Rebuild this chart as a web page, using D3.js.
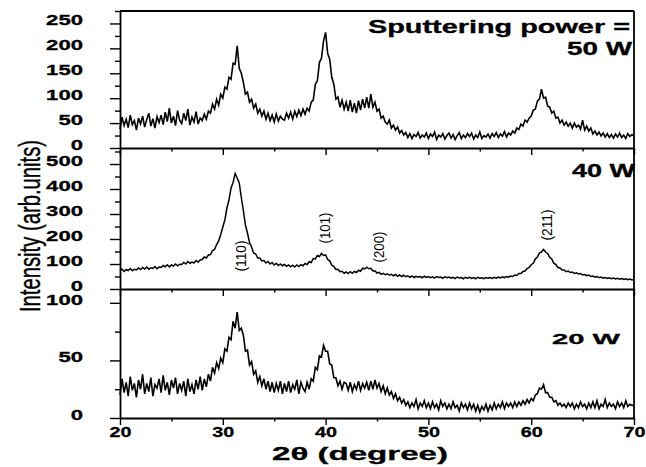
<!DOCTYPE html>
<html><head><meta charset="utf-8">
<script src="https://cdn.jsdelivr.net/npm/d3@7"></script>
<style>body{margin:0;background:#fff}</style>
</head><body><svg id="c" width="646" height="467"></svg>
<script>
// ---------- data (2θ grid: 20° to 70°, 0.2° step) ----------
const angleStart = 20, angleStep = 0.2;

const intensity50W = [
38,62,45,58,41,66,47,55,36,60,
48,64,42,57,70,44,59,40,63,51,
66,47,72,53,80,50,64,45,75,56,
49,70,55,78,46,62,52,73,48,60,
55,68,58,74,70,88,78,98,86,108,
100,122,118,142,138,170,168,205,160,150,
132,108,112,92,98,80,88,70,78,64,
74,58,70,55,66,52,68,54,64,58,
56,70,60,72,58,74,63,76,65,78,
68,80,74,92,96,128,135,172,180,215,
232,190,178,142,128,98,102,82,96,78,
92,74,96,72,90,70,95,76,98,80,
102,80,108,82,92,74,78,60,64,52,
48,56,40,46,36,42,30,35,26,31,
21,29,19,27,23,31,20,26,22,30,
19,28,23,32,17,26,22,29,18,25,
30,20,27,17,25,31,19,26,21,29,
23,30,18,26,21,32,19,25,22,28,
20,29,23,31,21,28,24,33,22,30,
26,34,30,40,37,48,44,56,52,60,
64,76,78,94,98,118,100,102,84,82,
70,74,60,62,50,56,46,52,44,50,
40,50,42,46,38,56,36,44,34,40,
28,34,26,32,24,30,22,29,21,27,
20,28,22,30,21,26,19,29,23,27,
24];

const intensity40W = [
72,80,70,78,74,82,73,79,76,84,
78,86,80,88,79,85,82,90,81,88,
86,94,89,97,88,96,92,100,93,99,
98,106,100,110,103,108,104,114,107,116,
118,128,124,136,138,154,158,178,192,218,
248,276,324,356,404,426,462,444,424,366,
314,256,224,186,168,144,140,124,124,112,
114,104,110,100,106,96,103,94,100,93,
98,91,96,89,95,88,96,90,97,93,
102,98,109,106,122,120,134,130,142,134,
136,118,113,95,91,78,79,69,71,63,
68,62,69,63,70,66,75,71,83,80,
87,81,83,72,73,64,67,59,63,57,
61,55,59,53,58,51,56,50,55,49,
53,47,52,46,51,47,50,45,51,46,
50,45,49,44,50,46,48,43,49,45,
48,43,47,42,48,44,46,41,47,43,
47,42,46,41,47,43,45,41,46,43,
46,42,47,43,48,44,49,45,50,47,
52,50,56,54,62,62,70,72,82,86,
97,103,120,128,145,148,158,148,142,127,
120,103,98,86,84,76,76,69,72,66,
68,62,65,60,62,56,58,53,56,50,
52,47,50,45,48,43,46,42,45,41,
44,40,43,39,42,38,41,37,40,36,
38];

const intensity20W = [
20,34,22,31,19,36,24,30,18,33,
25,38,21,30,23,35,19,29,26,34,
22,37,24,31,20,33,26,35,21,30,
24,32,19,34,23,29,21,33,25,36,
24,34,27,38,32,44,39,48,43,52,
48,60,58,70,68,84,78,92,76,78,
72,58,59,46,49,38,41,31,36,28,
34,25,32,23,31,22,30,24,32,21,
30,23,32,22,29,25,33,21,31,26,
23,31,25,34,32,44,42,54,53,63,
58,58,47,46,35,35,28,32,25,31,
30,24,31,23,29,25,32,24,30,26,
31,24,32,25,33,26,30,23,28,21,
26,20,23,17,21,15,18,13,16,11,
14,9,13,10,16,8,13,10,15,9,
13,8,14,9,12,7,15,10,13,8,
12,8,14,9,11,6,13,9,12,7,
13,8,12,6,11,5,10,7,12,6,
11,7,13,8,12,9,14,8,13,10,
13,9,14,10,14,11,15,12,16,13,
17,15,20,21,26,25,29,22,22,18,
18,14,15,11,13,10,12,9,13,10,
13,8,12,9,14,10,12,8,13,9,
14,9,15,8,12,10,16,9,13,10,
12,8,14,10,13,9,15,10,12,11,
11];

const powerLabels = ["50 W", "40 W", "20 W"];
const yTicks50W = [0, 50, 100, 150, 200, 250];
const yMinor50W = [25, 75, 125, 175, 225, 275];
const yTicks40W = [0, 100, 200, 300, 400, 500];
const yMinor40W = [50, 150, 250, 350, 450, 550];
const yTicks20W = [0, 50, 100];
const yMinor20W = [25, 75];
const xTicks = [20, 30, 40, 50, 60, 70];
const xMinor = [25, 35, 45, 55, 65];
const peakLabels = ["(110)", "(101)", "(200)", "(211)"];
const peakLabelAngles = [31.7, 39.9, 45.2, 61.5];
const peakLabelLevels = [132, 244, 168, 256];

// ---------- layout ----------
const svg = d3.select("#c");
const X0 = 120, X1 = 634;
const x = d3.scaleLinear().domain([20, 70]).range([X0, X1]);
const BOLD = "'Liberation Sans', Arial, sans-serif";

const panels = [
  {data: intensity50W, dom: [0, 275], top: 11,  bot: 148, major: yTicks50W, minor: yMinor50W, sw: 1.6},
  {data: intensity40W, dom: [0, 560], top: 149, bot: 289, major: yTicks40W, minor: yMinor40W, sw: 1.5},
  {data: intensity20W, dom: [0, 112], top: 289, bot: 418, major: yTicks20W, minor: yMinor20W, sw: 1.6}
];

const line = d3.line();

panels.forEach((p, pi) => {
  const y = d3.scaleLinear().domain(p.dom).range([p.bot, p.top]);
  p.y = y;
  const pts = p.data.map((v, i) => [x(angleStart + i * angleStep), y(v)]);
  svg.append("path").attr("d", line(pts))
    .attr("fill", "none").attr("stroke", "#000").attr("stroke-width", p.sw)
    .attr("stroke-linejoin", "miter");

  const gl = svg.append("g").attr("transform", `translate(${X0},0)`)
    .call(d3.axisLeft(y).tickValues(p.major).tickSize(10).tickSizeOuter(0).tickPadding(27)
      .tickFormat(d3.format("d")));
  gl.select(".domain").attr("stroke-width", 1.8);
  gl.selectAll(".tick line").attr("stroke-width", 1.4);
  gl.selectAll("text")
    .attr("font-family", BOLD).attr("font-weight", "bold").attr("font-size", 14.5)
    .attr("fill", "#000").attr("dy", "0.1em")
    .attr("stroke", "#000").attr("stroke-width", 0.3)
    .attr("lengthAdjust", "spacingAndGlyphs")
    .attr("textLength", d => String(d).length * 12.3);
  const gm = svg.append("g").attr("transform", `translate(${X0},0)`)
    .call(d3.axisLeft(y).tickValues(p.minor).tickSize(5).tickSizeOuter(0).tickFormat(""));
  gm.select(".domain").remove();
  gm.selectAll(".tick line").attr("stroke-width", 1.4);

  const gb = svg.append("g").attr("transform", `translate(0,${p.bot})`)
    .call(d3.axisBottom(x).tickValues(xTicks).tickSize(7).tickSizeOuter(0).tickPadding(2)
      .tickFormat(pi === 2 ? d3.format("d") : () => ""));
  gb.select(".domain").attr("stroke-width", 1.8);
  gb.selectAll(".tick line").attr("stroke-width", 1.4);
  gb.selectAll("text")
    .attr("font-family", BOLD).attr("font-weight", "bold").attr("font-size", 14.5)
    .attr("fill", "#000").attr("stroke", "#000").attr("stroke-width", 0.3)
    .attr("lengthAdjust", "spacingAndGlyphs")
    .attr("textLength", 22);
  const gbm = svg.append("g").attr("transform", `translate(0,${p.bot})`)
    .call(d3.axisBottom(x).tickValues(xMinor).tickSize(3.5).tickSizeOuter(0).tickFormat(""));
  gbm.select(".domain").remove();
  gbm.selectAll(".tick line").attr("stroke-width", 1.4);
});

svg.append("line").attr("x1", X0).attr("x2", X1).attr("y1", 11).attr("y2", 11)
  .attr("stroke", "#000").attr("stroke-width", 1.8);
svg.append("line").attr("x1", X1).attr("x2", X1).attr("y1", 11).attr("y2", 418)
  .attr("stroke", "#000").attr("stroke-width", 1.8);

function boldText(txt, xr, yb, fs, len) {
  svg.append("text").attr("x", xr).attr("y", yb).attr("text-anchor", "end")
    .attr("font-family", BOLD).attr("font-weight", "bold").attr("font-size", fs)
    .attr("fill", "#000").attr("stroke", "#000").attr("stroke-width", 0.3)
    .attr("lengthAdjust", "spacingAndGlyphs").attr("textLength", len)
    .text(txt);
}
boldText("Sputtering power =", 630, 33, 17.7, 262);
boldText(powerLabels[0], 632, 55, 17.5, 65);
boldText(powerLabels[1], 635, 177, 17.5, 63);
boldText(powerLabels[2], 620, 344, 15.5, 68);

svg.append("text").attr("x", 360).attr("y", 460).attr("text-anchor", "middle")
  .attr("font-family", BOLD).attr("font-weight", "bold").attr("font-size", 18.5)
  .attr("fill", "#000").attr("stroke", "#000").attr("stroke-width", 0.3)
  .attr("lengthAdjust", "spacingAndGlyphs").attr("textLength", 176)
  .text("2θ (degree)");

svg.append("text")
  .attr("transform", "translate(40,226) rotate(-90) scale(1,1.52)")
  .attr("text-anchor", "middle")
  .attr("font-family", "'Liberation Sans', Arial, sans-serif").attr("font-size", 20)
  .attr("fill", "#000").attr("stroke", "#000").attr("stroke-width", 0.25)
  .attr("lengthAdjust", "spacingAndGlyphs").attr("textLength", 172)
  .text("Intensity (arb.units)");

const y40 = panels[1].y;
peakLabels.forEach((t, i) => {
  svg.append("text")
    .attr("transform", `translate(${x(peakLabelAngles[i])},${y40(peakLabelLevels[i])}) rotate(-90) scale(1,1.3)`)
    .attr("text-anchor", "middle").attr("dy", "0.35em")
    .attr("font-family", "'Liberation Sans', Arial, sans-serif").attr("font-size", 11.5)
    .attr("fill", "#000").attr("lengthAdjust", "spacingAndGlyphs").attr("textLength", 31)
    .text(t);
});
</script>
</body></html>
